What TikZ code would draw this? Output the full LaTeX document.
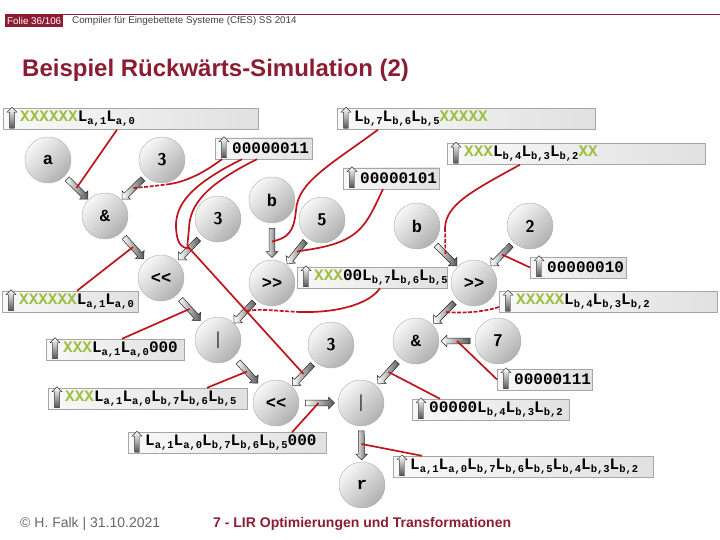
\documentclass[tikz,border=0pt]{standalone}
\usepackage{fontspec}
\setmainfont{Liberation Sans}
\setmonofont{Liberation Mono}
\usetikzlibrary{shapes.arrows,calc}
\definecolor{maroon}{RGB}{140,28,50}
\definecolor{lgreen}{RGB}{155,190,60}
\definecolor{cred}{RGB}{190,20,30}
\newcommand\XX[1]{\textcolor{lgreen}{#1}}
\newcommand\LL[1]{L\raisebox{-3pt}{\fontsize{10.5}{11}\selectfont #1}}
\begin{document}
\begin{tikzpicture}[x=1pt,y=-1pt,
  circ/.style={circle, draw=gray!65, minimum size=46pt, inner sep=0pt, top color=gray!6, bottom color=gray!62, shading angle=45},
  dig/.style={circ, font=\sffamily\bfseries\fontsize{17}{17}\selectfont},
  mon/.style={circ, font=\ttfamily\bfseries\fontsize{17}{17}\selectfont},
  bar/.style={draw=gray!70, left color=gray!5, right color=gray!24, inner xsep=2pt, inner ysep=0pt, minimum height=21pt, anchor=west, align=left, font=\ttfamily\bfseries\fontsize{16}{18}\selectfont},
  uparr/.style={single arrow, shape border rotate=90, draw=black!80, line width=0.4pt, top color=white, bottom color=gray!65!black, minimum height=21pt, minimum width=10pt, inner sep=2.2pt, single arrow head extend=2.5pt},
  barr/.style={single arrow, draw=black!85, line width=0.5pt, left color=white, right color=gray!70!black, minimum height=29pt, inner sep=2.6pt, single arrow head extend=3pt, sloped, allow upside down, pos=0.5},
  rl/.style={draw=cred, line width=1.7pt},
  rld/.style={rl, dash pattern=on 4pt off 1.5pt}]
\useasboundingbox (0,0) rectangle (720,540);
% header
\draw[maroon, line width=0.6pt] (5,14) -- (720,14);
\node[fill=maroon, text=white, font=\fontsize{9.8}{10}\selectfont, inner sep=0.5pt, anchor=north west, minimum height=13pt, minimum width=58pt] (folie) at (5,14) {Folie 36/106};
\node[anchor=west, text=black!75, font=\fontsize{9.8}{10}\selectfont, inner sep=0pt] (hdr) at (72,21) {Compiler für Eingebettete Systeme (CfES) SS 2014};
\node[anchor=west, text=maroon, font=\bfseries\fontsize{24}{28}\selectfont, inner sep=0pt] (title) at (22,70) {Beispiel Rückwärts-Simulation (2)};
% footer
\node[anchor=west, text=black!60, font=\fontsize{14}{16}\selectfont, inner sep=0pt] (foot1) at (20,524) {© H. Falk | 31.10.2021};
\node[anchor=west, text=maroon, font=\bfseries\fontsize{14}{16}\selectfont, inner sep=0pt] (foot2) at (213,524) {7 - LIR Optimierungen und Transformationen};
% circles
\node[mon] (na) at (48,160) {a};
\node[dig] (n3a) at (162,160) {3};
\node[mon] (nand1) at (105,216) {\&};
\node[dig] (n3b) at (218,219) {3};
\node[mon] (nb1) at (272,200) {b};
\node[dig] (n5) at (322,220) {5};
\node[mon] (nb2) at (417,226) {b};
\node[dig] (n2) at (530,226) {2};
\node[mon] (nshl1) at (161,278) {<<};
\node[mon] (nshr1) at (272,283) {>>};
\node[mon] (nshr2) at (474,283) {>>};
\node[dig] (nor1) at (218,340) {|};
\node[dig] (n3c) at (331,345) {3};
\node[mon] (nand2) at (416,341) {\&};
\node[dig] (n7) at (498,341) {7};
\node[mon] (nshl2) at (276,403) {<<};
\node[dig] (nor2) at (361,403) {|};
\node[mon] (nr) at (362,485) {r};
% block arrows
\path (na) -- node[barr] (A1) {} (nand1);
\path (n3a) -- node[barr] (A2) {} (nand1);
\path (nand1) -- node[barr] (A3) {} (nshl1);
\path (n3b) -- node[barr] (A4) {} (nshl1);
\path (nb1) -- node[barr] (A5) {} (nshr1);
\path (n5) -- node[barr] (A6) {} (nshr1);
\path (nb2) -- node[barr] (A7) {} (nshr2);
\path (n2) -- node[barr] (A8) {} (nshr2);
\path (nshl1) -- node[barr] (A9) {} (nor1);
\path (nshr1) -- node[barr] (A10) {} (nor1);
\path (nshr2) -- node[barr] (A11) {} (nand2);
\path (n7) -- node[barr] (A12) {} (nand2);
\path (nor1) -- node[barr] (A13) {} (nshl2);
\path (n3c) -- node[barr] (A14) {} (nshl2);
\path (nand2) -- node[barr] (A15) {} (nor2);
\path (nshl2) -- node[barr] (A16) {} (nor2);
\path (nor2) -- node[barr] (A17) {} (nr);
% bars
\node[bar, text width=251pt] (bar1) at (3,119) {\hspace*{15pt}\XX{XXXXXX}\LL{a,1}\LL{a,0}};
\node[bar, text width=254pt] (bar2) at (337,119) {\hspace*{15pt}\LL{b,7}\LL{b,6}\LL{b,5}\XX{XXXXX}};
\node[bar, text width=93pt] (bar3) at (215,148.5) {\hspace*{15pt}00000011};
\node[bar, text width=254pt] (bar4) at (447,154) {\hspace*{15pt}\XX{XXX}\LL{b,4}\LL{b,3}\LL{b,2}\XX{XX}};
\node[bar, text width=92pt] (bar5) at (343,178.5) {\hspace*{15pt}00000101};
\node[bar, text width=146pt] (bar6) at (297,277.5) {\hspace*{15pt}\XX{XXX}00\LL{b,7}\LL{b,6}\LL{b,5}};
\node[bar, text width=92pt] (bar7) at (530,267.5) {\hspace*{15pt}00000010};
\node[bar, text width=132pt] (bar8) at (2,301.5) {\hspace*{15pt}\XX{XXXXXX}\LL{a,1}\LL{a,0}};
\node[bar, text width=214pt] (bar9) at (499,302) {\hspace*{15pt}\XX{XXXXX}\LL{b,4}\LL{b,3}\LL{b,2}};
\node[bar, text width=134pt] (bar10) at (46,349.5) {\hspace*{15pt}\XX{XXX}\LL{a,1}\LL{a,0}000};
\node[bar, text width=91pt] (bar11) at (497,379.5) {\hspace*{15pt}00000111};
\node[bar, text width=195pt] (bar12) at (48,398.5) {\hspace*{15pt}\XX{XXX}\LL{a,1}\LL{a,0}\LL{b,7}\LL{b,6}\LL{b,5}};
\node[bar, text width=153pt] (bar13) at (412,409.5) {\hspace*{15pt}00000\LL{b,4}\LL{b,3}\LL{b,2}};
\node[bar, text width=194pt] (bar14) at (128,443) {\hspace*{15pt}\LL{a,1}\LL{a,0}\LL{b,7}\LL{b,6}\LL{b,5}000};
\node[bar, text width=256pt] (bar15) at (393,466.5) {\hspace*{15pt}\LL{a,1}\LL{a,0}\LL{b,7}\LL{b,6}\LL{b,5}\LL{b,4}\LL{b,3}\LL{b,2}};
\foreach \b in {bar1,bar2,bar3,bar4,bar5,bar6,bar7,bar8,bar9,bar10,bar11,bar12,bar13,bar14,bar15}
  \node[uparr] (\b-icon) at ([xshift=9pt]\b.west) {};
% red connectors
\draw[rl] ([xshift=114pt]bar1.south west) -- (A1.center);
\draw[rl] ([xshift=7pt]bar3.south west) .. controls (205,172) and (188,181) .. (170,184);
\draw[rld] (170,184) .. controls (155,186) and (145,187) .. (A2.center);
\draw[rl] ([xshift=27pt]bar3.south west) .. controls (190,185) and (175,205) .. (176,228) .. controls (177,242) and (180,248) .. (A4.center);
\draw[rl] ([xshift=42pt]bar3.south west) .. controls (205,185) and (190,205) .. (189,228) .. controls (188,242) and (186,248) .. (A4.center) -- (A14.center);
\draw[rl] ([xshift=41pt]bar2.south west) .. controls (330,165) and (298,182) .. (296,210) .. controls (294,232) and (288,238) .. (A5.center);
\draw[rl] ([xshift=40pt]bar5.south west) .. controls (372,212) and (366,228) .. (348,238) .. controls (332,247) and (312,249) .. (A6.center);
\draw[rl] ([xshift=73pt]bar4.south west) .. controls (470,192) and (446,205) .. (445,228);
\draw[rld] (445,228) -- (A7.center);
\draw[rl] (bar7.west) -- (A8.center);
\draw[rl] ([xshift=83pt]bar6.south west) .. controls (370,303) and (340,313) .. (300,312);
\draw[rld] (300,312) .. controls (275,311) and (258,308) .. (A10.center);
\draw[rld] ([yshift=-5pt]bar9.west) .. controls (480,313) and (460,313) .. (A11.center);
\draw[rl] ([xshift=75pt]bar8.north west) -- (A3.center);
\draw[rl] ([xshift=76pt]bar10.north west) -- (A9.center);
\draw[rl] (bar11.west) -- (A12.center);
\draw[rl] ([xshift=159pt]bar12.north west) -- (A13.center);
\draw[rl] ([xshift=28pt]bar13.north west) -- (A15.center);
\draw[rl] ([xshift=164pt]bar14.north west) -- (A16.center);
\draw[rl] ([xshift=29pt]bar15.north west) -- (A17.center);
\end{tikzpicture}
\end{document}
